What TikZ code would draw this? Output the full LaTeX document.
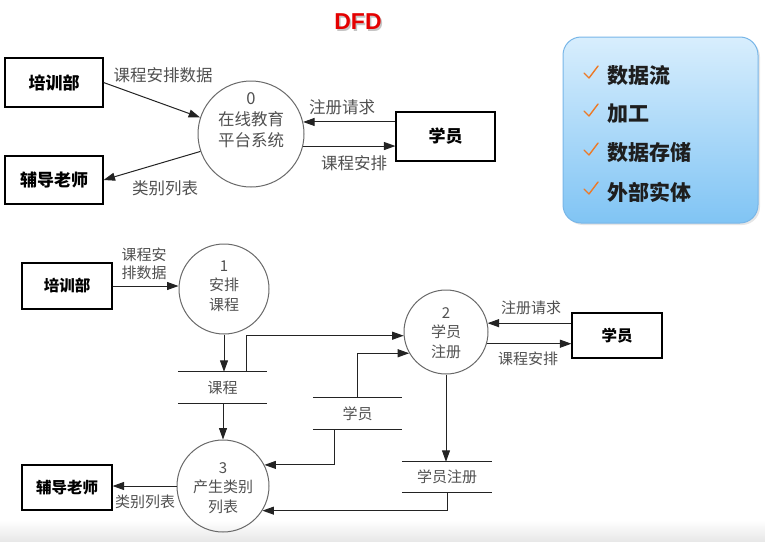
\documentclass[tikz,border=0pt]{standalone}
\usepackage{fontspec}
\setmainfont{Noto Sans CJK SC}
\newfontfamily\dfdfont{Liberation Sans}
\usetikzlibrary{arrows.meta,shadows}
\definecolor{labc}{RGB}{80,80,80}
\definecolor{lnc}{RGB}{35,35,35}
\definecolor{circc}{RGB}{105,105,105}
\definecolor{boxtop}{RGB}{216,238,253}
\definecolor{boxbot}{RGB}{128,196,244}
\definecolor{boxline}{RGB}{120,182,232}
\definecolor{chkc}{RGB}{236,122,40}
\definecolor{dfdred}{RGB}{228,0,0}
\definecolor{legtxt}{RGB}{30,30,30}
\definecolor{bandc}{RGB}{232,232,232}
\tikzset{
  entity/.style={draw=black, line width=1.1pt, fill=white, inner sep=0pt, text=black},
  entbig/.style={entity, font=\bfseries\fontsize{17}{17}\selectfont},
  entsmall/.style={entity, font=\bfseries\fontsize{15.5}{15.5}\selectfont},
  proc/.style={circle, draw=circc, line width=1pt, inner sep=0pt},
  ptextbig/.style={align=center, text=labc, inner sep=0pt, font=\fontsize{16.5}{21}\selectfont},
  ptextsmall/.style={align=center, text=labc, inner sep=0pt, font=\fontsize{15}{19.5}\selectfont},
  flow/.style={draw=lnc, line width=1pt, -{Triangle[length=11.5pt,width=8pt]}},
  flowlab/.style={text=labc, inner sep=0pt, align=center, font=\fontsize{16.5}{16.5}\selectfont},
  flowlabs/.style={text=labc, inner sep=0pt, align=center, font=\fontsize{15}{18}\selectfont},
  store/.style={inner sep=0pt, text=labc, font=\fontsize{15}{15}\selectfont},
  storeline/.style={draw=lnc, line width=1pt},
  legtext/.style={anchor=west, inner sep=0pt, text=legtxt, font=\bfseries\fontsize{21}{21}\selectfont},
  chkmark/.style={draw=chkc, line width=1.4pt, line cap=round, line join=round}
}
\begin{document}
\begin{tikzpicture}[x=1pt,y=-1pt]
\path[use as bounding box] (0,0) rectangle (765,541);
\fill[top color=white, bottom color=bandc] (0,520) rectangle (765,541);

% title
\node[font=\dfdfont\bfseries\fontsize{23}{23}\selectfont, text=black!45, opacity=0.5] (titleshadow) at (359.5,23.5) {DFD};
\node[font=\dfdfont\bfseries\fontsize{23}{23}\selectfont, text=dfdred] (title) at (358,22) {DFD};

% legend box
\node[draw=boxline, line width=1pt, rounded corners=18pt, top color=boxtop, bottom color=boxbot,
      minimum width=195pt, minimum height=186pt, drop shadow={opacity=0.2, shadow xshift=2pt, shadow yshift=-2pt}] (legend) at (660.5,130) {};
\node[legtext] (l1) at (607,76) {数据流};
\node[legtext] (l2) at (607,114) {加工};
\node[legtext] (l3) at (607,153) {数据存储};
\node[legtext] (l4) at (607,192) {外部实体};
\foreach \n in {l1,l2,l3,l4}{
  \draw[chkmark] ([xshift=-23pt,yshift=3pt]\n.west) -- ++(5,5) -- ++(9,-12);
}

% ---------- top context diagram ----------
\node[entbig, minimum width=98pt, minimum height=49pt] (tpx) at (54,82.5) {培训部};
\node[entbig, minimum width=98pt, minimum height=48pt] (tfd) at (54,180) {辅导老师};
\node[entbig, minimum width=99pt, minimum height=49pt] (txy) at (445.5,136.5) {学员};
\node[proc, minimum size=106pt] (tp0) at (251,134) {};
\node[ptextbig] (tp0t) at (251,120) {0\\在线教育\\平台系统};

\draw[flow] (tpx.east) -- (tp0.162);
\node[flowlab] (tl1) at (163,75) {课程安排数据};
\draw[flow] (tp0.199) -- (tfd.east);
\node[flowlab] (tl2) at (165,188) {类别列表};
\draw[flow] (txy.west |- tp0.13) -- (tp0.13);
\node[flowlab] (tl3) at (342,107) {注册请求};
\draw[flow] (tp0.-13) -- (tp0.-13 -| txy.west);
\node[flowlab] (tl4) at (354,163) {课程安排};

% ---------- bottom level-1 diagram ----------
\node[entsmall, minimum width=90pt, minimum height=46pt] (bpx) at (67,286) {培训部};
\node[entsmall, minimum width=90pt, minimum height=45pt] (bfd) at (67,487.5) {辅导老师};
\node[entsmall, minimum width=90pt, minimum height=45pt] (bxy) at (617,335.5) {学员};

\node[proc, minimum size=90pt] (bp1) at (224,289) {};
\node[ptextsmall] (bp1t) at (224,286) {1\\安排\\课程};
\node[proc, minimum size=84pt] (bp2) at (446,332) {};
\node[ptextsmall] (bp2t) at (446,333) {2\\学员\\注册};
\node[proc, minimum size=92pt] (bp3) at (223,486) {};
\node[ptextsmall] (bp3t) at (223,488) {3\\产生类别\\列表};

% data stores
\node[store, minimum width=89pt, minimum height=31pt] (skc) at (222.5,387.5) {课程};
\draw[storeline] (skc.north west) -- (skc.north east);
\draw[storeline] (skc.south west) -- (skc.south east);
\node[store, minimum width=89pt, minimum height=31pt] (sxy) at (357.5,413.5) {学员};
\draw[storeline] (sxy.north west) -- (sxy.north east);
\draw[storeline] (sxy.south west) -- (sxy.south east);
\node[store, minimum width=90pt, minimum height=30pt] (sxz) at (447,477) {学员注册};
\draw[storeline] (sxz.north west) -- (sxz.north east);
\draw[storeline] (sxz.south west) -- (sxz.south east);

% flows
\draw[flow] (bpx.east) -- (bpx.east -| bp1.west);
\node[flowlabs] (bl1) at (144,264) {课程安\\排数据};
\draw[flow] (bp1.south) -- (bp1.south |- skc.north);
\draw[flow] ([xshift=23.5pt]skc.north) |- (bp2.185.5);
\draw[flow] (sxy.north) |- (bp2.210);
\draw[flow] ([xshift=-23.5pt]sxy.south) |- (bp3.27.2);
\draw[flow] (bp3.north |- skc.south) -- (bp3.north);
\draw[flow] (bp2.south) -- (bp2.south |- sxz.north);
\draw[flow] (sxz.south) |- (bp3.-32.9);
\draw[flow] (bp3.west) -- (bp3.west -| bfd.east);
\node[flowlabs] (bl2) at (145,502) {类别列表};
\draw[flow] (bxy.west |- bp2.12.4) -- (bp2.12.4);
\node[flowlabs] (bl3) at (531,308) {注册请求};
\draw[flow] (bp2.-16.6) -- (bp2.-16.6 -| bxy.west);
\node[flowlabs] (bl4) at (528,359) {课程安排};
\end{tikzpicture}
\end{document}
